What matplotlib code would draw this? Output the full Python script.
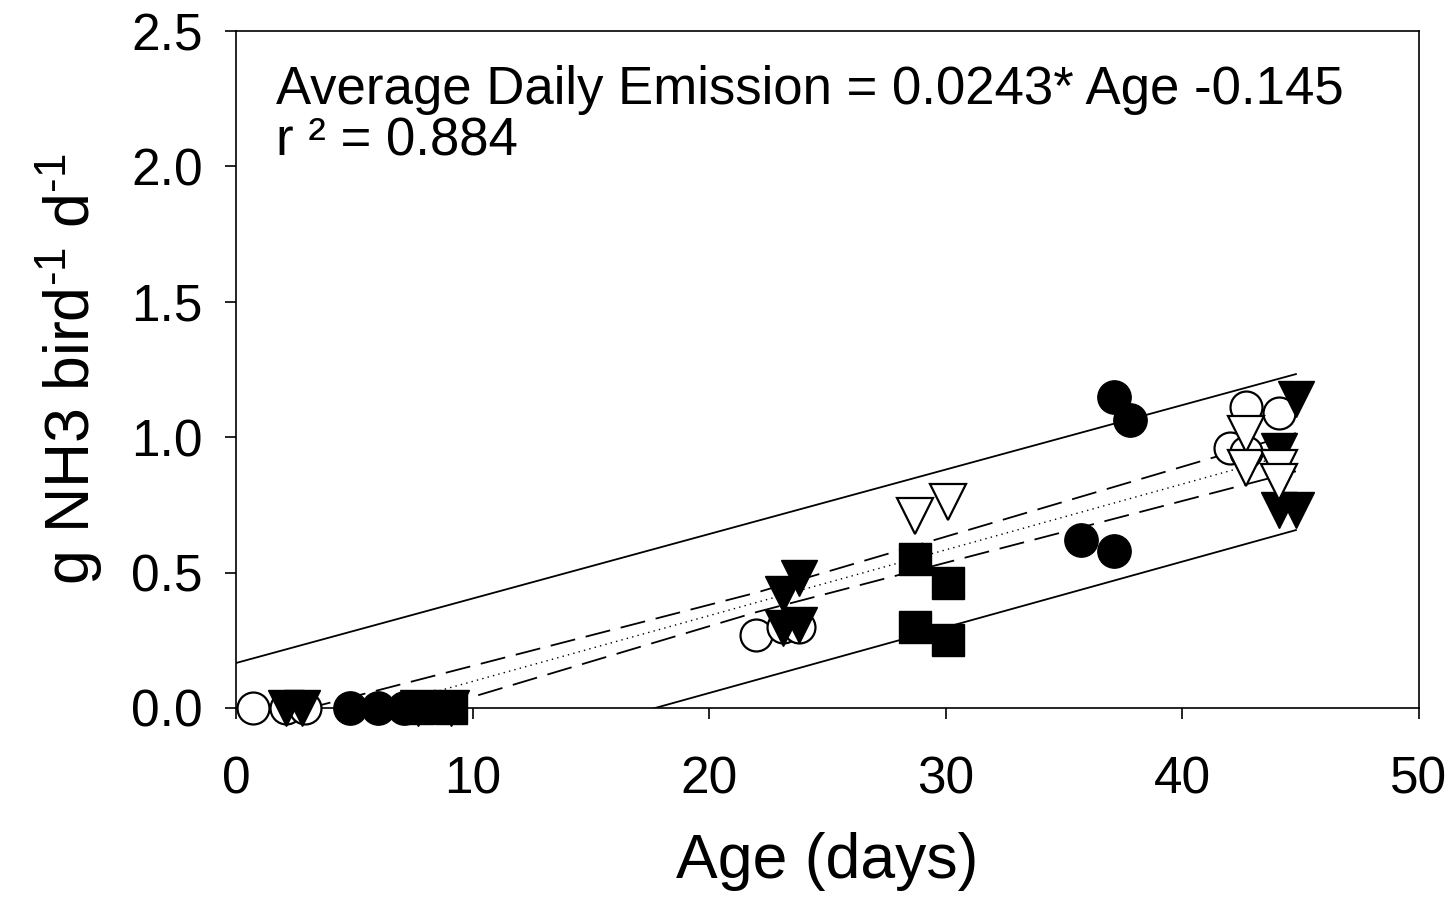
import numpy as np
import matplotlib
matplotlib.use("Agg")
import matplotlib.pyplot as plt

plt.rcParams['font.family'] = ['Liberation Sans', 'DejaVu Sans']
plt.rcParams['mathtext.fontset'] = 'custom'
plt.rcParams['mathtext.rm'] = 'Liberation Sans'

# --- data ---
open_circle_x = [0.7, 2.1, 2.9, 22.0, 23.1, 23.8, 42.7, 44.1, 42.0, 42.7]
open_circle_y = [0.0, 0.0, 0.0, 0.27, 0.30, 0.30, 1.11, 1.09, 0.96, 0.945]

filled_circle_x = [4.8, 6.0, 7.1, 37.1, 37.8, 35.7, 37.1]
filled_circle_y = [0.0, 0.0, 0.0, 1.15, 1.065, 0.62, 0.58]

filled_tri_x = [2.1, 2.8, 7.7, 9.1, 23.8, 23.1, 23.1, 23.8, 44.8, 44.1, 44.1, 44.8]
filled_tri_y = [0.0, 0.0, 0.0, 0.0, 0.48, 0.42, 0.295, 0.305, 1.14, 0.95, 0.73, 0.73]

open_tri_x = [28.7, 30.1, 42.7, 42.7, 44.1, 44.1]
open_tri_y = [0.71, 0.76, 1.01, 0.885, 0.885, 0.835]

square_x = [7.7, 9.1, 28.7, 30.1, 28.7, 30.1]
square_y = [0.0, 0.0, 0.55, 0.46, 0.30, 0.25]

# regression and bands (read at a few ages)
slope, intercept = 0.0243, -0.145
fit_x = [0.0, 22.0, 44.8]
ci_upper = [-0.07, 0.426, 1.015]
ci_lower = [-0.22, 0.354, 0.874]
pi_x = [0.0, 44.8]
pi_upper = [0.166, 1.233]
pi_lower = [-0.43, 0.657]

fig = plt.figure(figsize=(14.54, 8.99), dpi=100)
ax = fig.add_axes([0.1623, 0.2125, 0.8136, 0.753])

xr = np.array([0.0, 44.8])
ax.plot(xr, slope * xr + intercept, color='black', lw=1.0, ls=(0, (1, 3)), zorder=2)
ax.plot(fit_x, ci_upper, color='black', lw=1.3, ls=(0, (14, 6)), zorder=2)
ax.plot(fit_x, ci_lower, color='black', lw=1.3, ls=(0, (14, 6)), zorder=2)
ax.plot(pi_x, pi_upper, color='black', lw=1.3, zorder=2)
ax.plot(pi_x, pi_lower, color='black', lw=1.3, zorder=2)

marker_kw = dict(ls='none', clip_on=False)
ax.plot(filled_circle_x, filled_circle_y, 'o', ms=24, mfc='black', mec='black', zorder=3, **marker_kw)
ax.plot(open_circle_x, open_circle_y, 'o', ms=23, mfc='white', mec='black', mew=1.6, zorder=4, **marker_kw)
ax.plot(filled_tri_x, filled_tri_y, 'v', ms=26, mfc='black', mec='black', zorder=5, **marker_kw)
ax.plot(open_tri_x, open_tri_y, 'v', ms=26, mfc='white', mec='black', mew=1.6, zorder=6, **marker_kw)
ax.plot(square_x, square_y, 's', ms=23, mfc='black', mec='black', zorder=7, **marker_kw)

ax.set_xlim(0, 50)
ax.set_ylim(0, 2.5)
ax.set_xticks(np.arange(0, 51, 10))
ax.set_yticks(np.arange(0, 2.51, 0.5))
ax.set_yticklabels([f"{v:.1f}" for v in np.arange(0, 2.51, 0.5)])
ax.tick_params(direction='out', length=8, width=1.2, labelsize=37)
ax.tick_params(axis='x', pad=26)
ax.tick_params(axis='y', pad=16)
for s in ax.spines.values():
    s.set_linewidth(1.2)

ax.set_xlabel('Age (days)', fontsize=45, labelpad=20)
ax.set_ylabel(r'g NH3 bird$^\mathregular{\text{-}1}$ d$^\mathregular{\text{-}1}$', fontsize=45, labelpad=18)

ax.text(0.034, 0.95, 'Average Daily Emission = 0.0243* Age -0.145\nr ² = 0.884',
        transform=ax.transAxes, fontsize=38, va='top', ha='left', linespacing=1.05)

fig.savefig('out.png', dpi=100)
